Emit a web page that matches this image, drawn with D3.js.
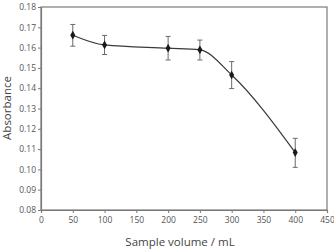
<!DOCTYPE html>
<html><head><meta charset="utf-8">
<script src="https://cdn.jsdelivr.net/npm/d3@7"></script>
<style>html,body{margin:0;padding:0;background:#fff;}svg{display:block;}</style>
</head><body>
<svg id="c" width="334" height="251"></svg>
<script>
const volumes = [50, 100, 200, 250, 300, 400];
const absorbance = [0.1661, 0.1613, 0.1597, 0.1589, 0.1465, 0.1083];
const errUpper = [0.1714, 0.1660, 0.1655, 0.1637, 0.1531, 0.1153];
const errLower = [0.1607, 0.1566, 0.1539, 0.1539, 0.1398, 0.1010];
const xTicks = [0, 50, 100, 150, 200, 250, 300, 350, 400, 450];
const yTicks = [0.08, 0.09, 0.10, 0.11, 0.12, 0.13, 0.14, 0.15, 0.16, 0.17, 0.18];

const svg = d3.select("#c");
const L = 41, R = 327, T = 7, B = 210;
const x = d3.scaleLinear().domain([0, 450]).range([L, R]);
const y = d3.scaleLinear().domain([0.08, 0.18]).range([B, T]);
const axisColor = "#7a7a7a", textColor = "#555";
const font = "'Open Sans', sans-serif";

svg.append("rect").attr("x", L).attr("y", T).attr("width", R - L).attr("height", B - T)
  .attr("fill", "none").attr("stroke", axisColor).attr("stroke-width", 1.2);

const xa = svg.append("g").attr("transform", `translate(0,${B})`)
  .call(d3.axisBottom(x).tickValues(xTicks).tickSize(3).tickFormat(d3.format("d")));
const ya = svg.append("g").attr("transform", `translate(${L},0)`)
  .call(d3.axisLeft(y).tickValues(yTicks).tickSize(3).tickFormat(d3.format(".2f")));
[xa, ya].forEach(a => {
  a.select(".domain").attr("stroke", axisColor).attr("stroke-width", 1.2);
  a.selectAll(".tick line").attr("stroke", axisColor);
  a.selectAll("text").attr("fill", textColor).style("font-family", font).style("font-size", "8.5px");
});
xa.selectAll("text").attr("dy", "0.9em").attr("y", 5);
ya.selectAll("text").attr("x", -5);

svg.append("text").attr("x", 180).attr("y", 246).attr("text-anchor", "middle")
  .attr("fill", "#444").style("font-family", font).style("font-size", "11.5px").text("Sample volume / mL");
svg.append("text").attr("transform", `translate(11,108) rotate(-90)`).attr("text-anchor", "middle")
  .attr("fill", "#444").style("font-family", font).style("font-size", "11.5px").text("Absorbance");

const data = volumes.map((v, i) => ({ v, a: absorbance[i], hi: errUpper[i], lo: errLower[i] }));

svg.append("path").datum(data)
  .attr("d", d3.line().x(d => x(d.v)).y(d => y(d.a)).curve(d3.curveMonotoneX))
  .attr("fill", "none").attr("stroke", "#3a3a3a").attr("stroke-width", 1.2);

const eb = svg.append("g").attr("stroke", "#6a6a6a").attr("stroke-width", 1);
data.forEach(d => {
  eb.append("line").attr("x1", x(d.v)).attr("x2", x(d.v)).attr("y1", y(d.hi)).attr("y2", y(d.lo));
  eb.append("line").attr("x1", x(d.v) - 2.5).attr("x2", x(d.v) + 2.5).attr("y1", y(d.hi)).attr("y2", y(d.hi));
  eb.append("line").attr("x1", x(d.v) - 2.5).attr("x2", x(d.v) + 2.5).attr("y1", y(d.lo)).attr("y2", y(d.lo));
});

svg.append("g").selectAll("path").data(data).join("path")
  .attr("transform", d => `translate(${x(d.v)},${y(d.a)})`)
  .attr("d", d3.symbol().type(d3.symbolDiamond).size(22))
  .attr("fill", "#1a1a1a");
</script>
</body></html>
